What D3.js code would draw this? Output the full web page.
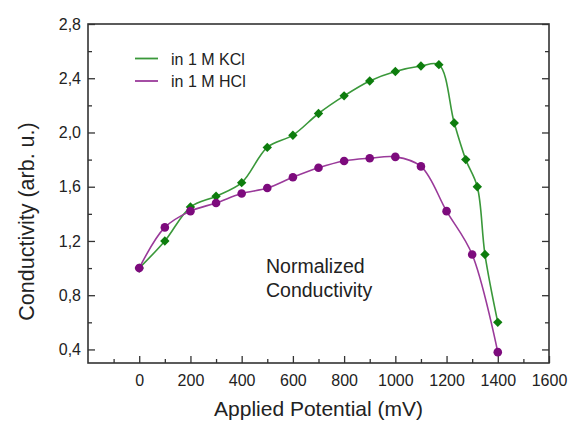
<!DOCTYPE html>
<html>
<head>
<meta charset="utf-8">
<script src="https://cdn.jsdelivr.net/npm/d3@7"></script>
<style>
  body { margin: 0; background: #fff; }
  svg { font-family: "Liberation Sans", Arial, sans-serif; }
</style>
</head>
<body>
<svg id="chart" width="571" height="421"></svg>
<script>
// values
const potentialKCl = [0, 100, 200, 300, 400, 500, 600, 700, 800, 900, 1000, 1100, 1170, 1230, 1275, 1320, 1350, 1400];
const condKCl      = [1.00, 1.20, 1.45, 1.53, 1.63, 1.89, 1.98, 2.14, 2.27, 2.38, 2.45, 2.49, 2.50, 2.07, 1.80, 1.60, 1.10, 0.60];
const potentialHCl = [0, 100, 200, 300, 400, 500, 600, 700, 800, 900, 1000, 1100, 1200, 1300, 1400];
const condHCl      = [1.00, 1.30, 1.42, 1.48, 1.55, 1.59, 1.67, 1.74, 1.79, 1.81, 1.82, 1.75, 1.42, 1.10, 0.38];
const seriesNames  = ['in 1 M KCl', 'in 1 M HCl'];
const xTickValues  = [0, 200, 400, 600, 800, 1000, 1200, 1400, 1600];
const yTickValues  = [0.4, 0.8, 1.2, 1.6, 2.0, 2.4, 2.8];

const margin = {top: 24, right: 22, bottom: 58, left: 88};
const W = 571, H = 421;
const w = W - margin.left - margin.right, h = H - margin.top - margin.bottom;

const svg = d3.select('#chart');
const g = svg.append('g').attr('transform', `translate(${margin.left},${margin.top})`);

const x = d3.scaleLinear().domain([-200, 1600]).range([0, w]);
const y = d3.scaleLinear().domain([0.3, 2.8]).range([h, 0]);
const fmt = v => d3.format('.1f')(v).replace('.', ',');

const axisColor = '#333';
const xMinor = d3.range(-100, 1600, 200);
const yMinor = d3.range(0.6, 2.7, 0.4);

function styleAxis(sel) {
  sel.select('.domain').remove();
  sel.selectAll('line').attr('stroke', axisColor).attr('stroke-width', 1.3);
  sel.selectAll('text').attr('fill', '#222').attr('font-size', '16px')
     .attr('font-family', '"Liberation Sans", Arial, sans-serif');
}

// bottom axis, ticks pointing in
g.append('g').attr('transform', `translate(0,${h})`)
  .call(d3.axisBottom(x).tickValues(xTickValues).tickFormat(d3.format('d'))
        .tickSizeInner(-7).tickSizeOuter(0).tickPadding(12))
  .call(styleAxis);
g.append('g').attr('transform', `translate(0,${h})`)
  .call(d3.axisBottom(x).tickValues(xMinor).tickSizeInner(-4).tickSizeOuter(0).tickFormat(''))
  .call(styleAxis);

// left axis
g.append('g')
  .call(d3.axisLeft(y).tickValues(yTickValues).tickFormat(fmt).tickSizeInner(-7).tickSizeOuter(0).tickPadding(7))
  .call(styleAxis);
g.append('g')
  .call(d3.axisLeft(y).tickValues(yMinor).tickSizeInner(-4).tickSizeOuter(0).tickFormat(''))
  .call(styleAxis);

// right axis, ticks only
g.append('g').attr('transform', `translate(${w},0)`)
  .call(d3.axisRight(y).tickValues(yTickValues).tickSizeInner(-7).tickSizeOuter(0).tickFormat(''))
  .call(styleAxis);
g.append('g').attr('transform', `translate(${w},0)`)
  .call(d3.axisRight(y).tickValues(yMinor).tickSizeInner(-4).tickSizeOuter(0).tickFormat(''))
  .call(styleAxis);

// frame
g.append('rect').attr('width', w).attr('height', h)
  .attr('fill', 'none').attr('stroke', axisColor).attr('stroke-width', 1.6);

const series = [
  {name: seriesNames[0], xs: potentialKCl, ys: condKCl, line: '#3a983a', mark: '#0d7d0d', shape: 'diamond'},
  {name: seriesNames[1], xs: potentialHCl, ys: condHCl, line: '#9a3a9a', mark: '#7d0b7d', shape: 'circle'}
];

const line = d3.line().x(d => x(d[0])).y(d => y(d[1])).curve(d3.curveCatmullRom.alpha(0.5));

series.forEach(s => {
  const pts = s.xs.map((v, i) => [v, s.ys[i]]);
  g.append('path').datum(pts)
    .attr('d', line)
    .attr('fill', 'none')
    .attr('stroke', s.line)
    .attr('stroke-width', 1.6);

  const sym = s.shape === 'diamond'
    ? d3.symbol().type(d3.symbolSquare).size(44)
    : d3.symbol().type(d3.symbolCircle).size(58);
  g.selectAll(null).data(pts).enter().append('path')
    .attr('d', sym)
    .attr('transform', d => `translate(${x(d[0])},${y(d[1])})` + (s.shape === 'diamond' ? ' rotate(45)' : ''))
    .attr('fill', s.mark);
});

// legend
series.forEach((s, i) => {
  const ly = 58.5 + i * 22.5;
  svg.append('line').attr('x1', 135).attr('x2', 158).attr('y1', ly).attr('y2', ly)
    .attr('stroke', s.line).attr('stroke-width', 1.8);
  svg.append('text').attr('x', 171).attr('y', ly + 6)
    .attr('font-size', '16px').attr('fill', '#222').text(s.name);
});

// annotation
const note = svg.append('text').attr('font-size', '19.5px').attr('fill', '#222');
note.append('tspan').attr('x', 266).attr('y', 273).text('Normalized');
note.append('tspan').attr('x', 266).attr('y', 297).text('Conductivity');

// axis titles
svg.append('text')
  .attr('x', margin.left + w / 2).attr('y', 416)
  .attr('text-anchor', 'middle').attr('font-size', '21px').attr('fill', '#222')
  .text('Applied Potential (mV)');
svg.append('text')
  .attr('transform', `translate(34,${margin.top + h / 2 + 28}) rotate(-90)`)
  .attr('text-anchor', 'middle').attr('font-size', '21.5px').attr('fill', '#222')
  .text('Conductivity (arb. u.)');
</script>
</body>
</html>
